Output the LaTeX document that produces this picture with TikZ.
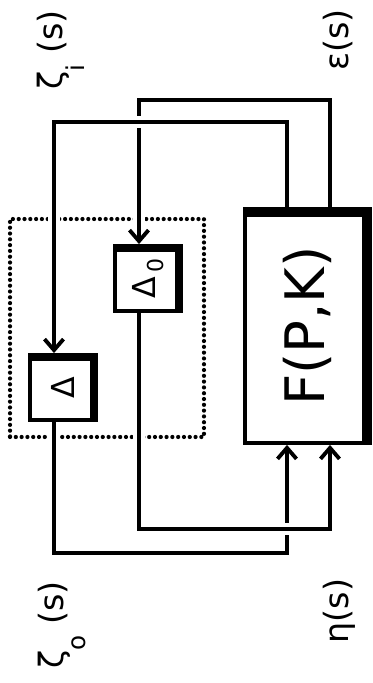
\documentclass[tikz,border=0pt]{standalone}
\usepackage{fontspec}
\setmainfont{DejaVu Sans}
\usetikzlibrary{arrows.meta}
\newcommand{\lowsub}[1]{\raisebox{-0.65em}{\fontsize{14}{14}\selectfont #1}}

\begin{document}
\begin{tikzpicture}[x=0.02cm, y=-0.02cm,
    blkbox/.style={rectangle, draw=black, line width=2.5pt, fill=white, inner sep=0pt,
                   path picture={
                     \fill[black] ([yshift=-#1]path picture bounding box.north west) rectangle (path picture bounding box.north east);
                     \fill[black] ([xshift=-#1]path picture bounding box.south east) rectangle (path picture bounding box.north east);}},
    unbox/.style={rectangle, draw=black, line width=2.4pt, dash pattern=on 0pt off 3.3pt,
                  line cap=round, inner sep=0pt},
    arrow/.style={-{Straight Barb[length=2.2mm, width=3.8mm]}, line width=2.2pt,
                  preaction={draw=white, line width=7pt, arrows=-}},
    sigtext/.style={inner sep=0pt, font=\fontsize{19}{22}\selectfont}
]
    \useasboundingbox (0,0) rectangle (372,683);

    % Uncertainty block
    \node[unbox, minimum width=3.88cm, minimum height=4.36cm] (unc) at (107,328) {};
    \node[blkbox=3.2pt, minimum width=1.31cm, minimum height=1.29cm,
          font=\fontsize{18}{22}\selectfont] (dlt) at (63,387.5) {\rotatebox{90}{Δ}};
    \node[blkbox=3.2pt, minimum width=1.31cm, minimum height=1.29cm,
          font=\fontsize{18}{22}\selectfont] (dlz) at (148,278.5)
          {\rotatebox{90}{Δ\,\raisebox{-4.5pt}{\fontsize{12.5}{12.5}\selectfont 0}}};

    % Plant
    \node[blkbox=4.6pt, minimum width=2.49cm, minimum height=4.67cm,
          font=\fontsize{31}{36}\selectfont] (fpk) at (307.5,326) {\rotatebox{90}{F(P,K)}};

    % Signals
    \node[sigtext] (zi) at (60.5,50) {\rotatebox{90}{ζ\lowsub{i} (s)}};
    \node[sigtext] (eps) at (338,40) {\rotatebox{90}{ε(s)}};
    \node[sigtext] (zo) at (62,625) {\rotatebox{90}{ζ\lowsub{o} (s)}};
    \node[sigtext] (eta) at (339,611) {\rotatebox{90}{η(s)}};

    % Wiring
    \coordinate (ta) at (54,122);
    \coordinate (tb) at (139,100);
    \coordinate (bc) at (139,529);
    \coordinate (bd) at (54,553);
    \coordinate (fa) at (287,0);
    \coordinate (fb) at (330,0);

    \draw[arrow] (fpk.north -| fb) |- (tb) -- (dlz.north -| tb);
    \draw[arrow] (fpk.north -| fa) |- (ta) -- (dlt.north -| ta);
    \draw[arrow] (dlt.south -| bd) -- (bd) -| (fpk.south -| fa);
    \draw[arrow] (dlz.south -| bc) -- (bc) -| (fpk.south -| fb);
\end{tikzpicture}
\end{document}
